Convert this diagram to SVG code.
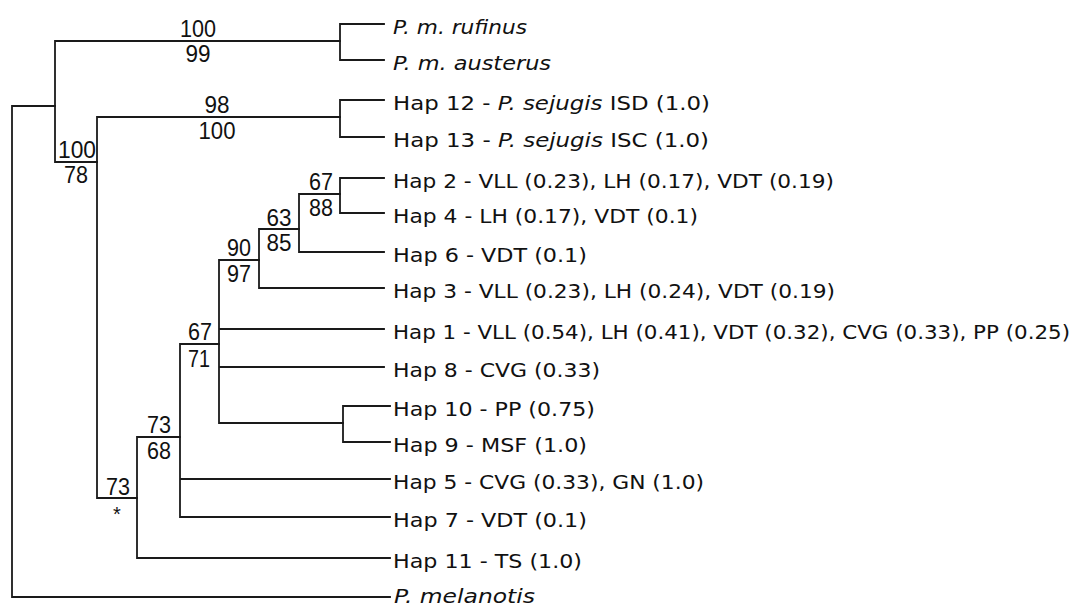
<svg xmlns="http://www.w3.org/2000/svg" width="1084" height="605" viewBox="0 0 1084 605">
<style>
.br{fill:none;stroke:#1a1a1a;stroke-width:1.8;stroke-linecap:square}
.lab{font-family:"DejaVu Sans","Liberation Sans",sans-serif;font-size:19px;fill:#111}
.it{font-style:italic}
.sup{font-family:"Liberation Sans",Arial,sans-serif;font-size:24px;fill:#111;text-anchor:middle}
</style>
<rect width="1084" height="605" fill="#fff"/>
<g id="connectors" class="br">
<path d="M12 106V597M12 106H55M12 597H390"/>
<path d="M55 41V162M55 41H340M55 162H97"/>
<path d="M340 24V60M340 24H384M340 60H384"/>
<path d="M97 117V498M97 117H340M97 498H137"/>
<path d="M340 100V137M340 100H384M340 137H384"/>
<path d="M137 437V558M137 437H180M137 558H390"/>
<path d="M180 344V517M180 344H219M180 479H390M180 517H390"/>
<path d="M219 260V423M219 260H259M219 329H384M219 367H384M219 423H343"/>
<path d="M343 406V442M343 406H390M343 442H390"/>
<path d="M259 229V288M259 229H299M259 288H384"/>
<path d="M299 194V252M299 194H340M299 252H384"/>
<path d="M340 178V213M340 178H384M340 213H384"/>
</g>
<g id="support">
<text class="sup" x="198" y="37" textLength="36" lengthAdjust="spacingAndGlyphs">100</text>
<text class="sup" x="198" y="62" textLength="25" lengthAdjust="spacingAndGlyphs">99</text>
<text class="sup" x="217" y="113" textLength="25" lengthAdjust="spacingAndGlyphs">98</text>
<text class="sup" x="217" y="139" textLength="37" lengthAdjust="spacingAndGlyphs">100</text>
<text class="sup" x="77" y="158" textLength="38" lengthAdjust="spacingAndGlyphs">100</text>
<text class="sup" x="76" y="183" textLength="24" lengthAdjust="spacingAndGlyphs">78</text>
<text class="sup" x="321" y="190" textLength="24" lengthAdjust="spacingAndGlyphs">67</text>
<text class="sup" x="321" y="216" textLength="24" lengthAdjust="spacingAndGlyphs">88</text>
<text class="sup" x="279" y="226" textLength="25" lengthAdjust="spacingAndGlyphs">63</text>
<text class="sup" x="279" y="251" textLength="25" lengthAdjust="spacingAndGlyphs">85</text>
<text class="sup" x="239" y="256" textLength="24" lengthAdjust="spacingAndGlyphs">90</text>
<text class="sup" x="239" y="282" textLength="24" lengthAdjust="spacingAndGlyphs">97</text>
<text class="sup" x="200" y="340" textLength="24" lengthAdjust="spacingAndGlyphs">67</text>
<text class="sup" x="199" y="367" textLength="22" lengthAdjust="spacingAndGlyphs">71</text>
<text class="sup" x="159" y="433" textLength="24" lengthAdjust="spacingAndGlyphs">73</text>
<text class="sup" x="159" y="459" textLength="24" lengthAdjust="spacingAndGlyphs">68</text>
<text class="sup" x="118" y="495" textLength="24" lengthAdjust="spacingAndGlyphs">73</text>
<text class="sup" x="117" y="521" style="font-size:20px">*</text>
</g>
<g id="rufinus"><text class="lab it" x="393" y="34" textLength="134" lengthAdjust="spacingAndGlyphs">P. m. rufinus</text></g>
<g id="austerus"><text class="lab it" x="393" y="70" textLength="158" lengthAdjust="spacingAndGlyphs">P. m. austerus</text></g>
<g id="hap12"><text class="lab" x="393" y="110" textLength="317" lengthAdjust="spacingAndGlyphs">Hap 12 - <tspan class="it">P. sejugis</tspan> ISD (1.0)</text></g>
<g id="hap13"><text class="lab" x="393" y="147" textLength="316" lengthAdjust="spacingAndGlyphs">Hap 13 - <tspan class="it">P. sejugis</tspan> ISC (1.0)</text></g>
<g id="hap2"><text class="lab" x="393" y="188" textLength="441" lengthAdjust="spacingAndGlyphs">Hap 2 - VLL (0.23), LH (0.17), VDT (0.19)</text></g>
<g id="hap4"><text class="lab" x="393" y="223" textLength="305" lengthAdjust="spacingAndGlyphs">Hap 4 - LH (0.17), VDT (0.1)</text></g>
<g id="hap6"><text class="lab" x="393" y="262" textLength="194" lengthAdjust="spacingAndGlyphs">Hap 6 - VDT (0.1)</text></g>
<g id="hap3"><text class="lab" x="393" y="298" textLength="442" lengthAdjust="spacingAndGlyphs">Hap 3 - VLL (0.23), LH (0.24), VDT (0.19)</text></g>
<g id="hap1"><text class="lab" x="393" y="339" textLength="677" lengthAdjust="spacingAndGlyphs">Hap 1 - VLL (0.54), LH (0.41), VDT (0.32), CVG (0.33), PP (0.25)</text></g>
<g id="hap8"><text class="lab" x="393" y="377" textLength="207" lengthAdjust="spacingAndGlyphs">Hap 8 - CVG (0.33)</text></g>
<g id="hap10"><text class="lab" x="393" y="416" textLength="202" lengthAdjust="spacingAndGlyphs">Hap 10 - PP (0.75)</text></g>
<g id="hap9"><text class="lab" x="393" y="452" textLength="194" lengthAdjust="spacingAndGlyphs">Hap 9 - MSF (1.0)</text></g>
<g id="hap5"><text class="lab" x="393" y="489" textLength="311" lengthAdjust="spacingAndGlyphs">Hap 5 - CVG (0.33), GN (1.0)</text></g>
<g id="hap7"><text class="lab" x="393" y="527" textLength="194" lengthAdjust="spacingAndGlyphs">Hap 7 - VDT (0.1)</text></g>
<g id="hap11"><text class="lab" x="393" y="568" textLength="189" lengthAdjust="spacingAndGlyphs">Hap 11 - TS (1.0)</text></g>
<g id="melanotis"><text class="lab it" x="394" y="603" textLength="141" lengthAdjust="spacingAndGlyphs">P. melanotis</text></g>
</svg>
